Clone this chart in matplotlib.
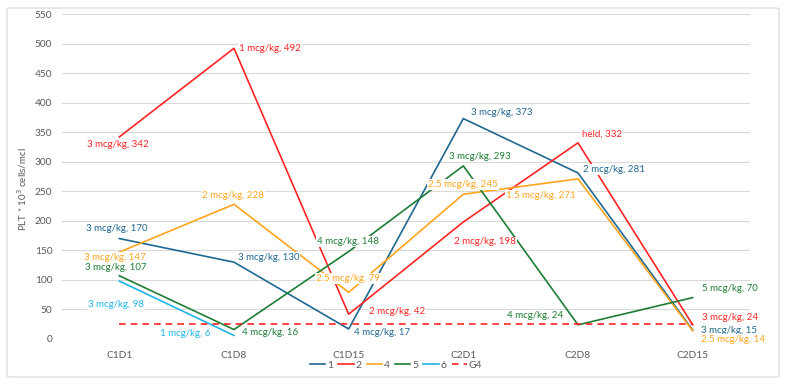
import matplotlib
matplotlib.use("Agg")
import matplotlib.pyplot as plt
from matplotlib.patches import FancyBboxPatch
import numpy as np

categories = ["C1D1", "C1D8", "C1D15", "C2D1", "C2D8", "C2D15"]
series_names = ["1", "2", "4", "5", "6"]
s1 = [170, 130, 17, 373, 281, 15]
s2 = [342, 492, 42, 198, 332, 24]
s4 = [147, 228, 79, 245, 271, 14]
s5 = [107, 16, 148, 293, 24, 70]
s6 = [98, 6, None, None, None, None]
g4 = [25, 25, 25, 25, 25, 25]

d1 = ["3 mcg/kg", "3 mcg/kg", "4 mcg/kg", "3 mcg/kg", "2 mcg/kg", "3 mcg/kg"]
d2 = ["3 mcg/kg", "1 mcg/kg", "2 mcg/kg", "2 mcg/kg", "held", "3 mcg/kg"]
d4 = ["3 mcg/kg", "2 mcg/kg", "2.5 mcg/kg", "2.5 mcg/kg", "1.5 mcg/kg", "2.5 mcg/kg"]
d5 = ["3 mcg/kg", "4 mcg/kg", "4 mcg/kg", "3 mcg/kg", "4 mcg/kg", "5 mcg/kg"]
d6 = ["3 mcg/kg", "1 mcg/kg", None, None, None, None]

colors = {"1": "#1F6891", "2": "#FF2424", "4": "#FFA51F", "5": "#1E7D34", "6": "#1FB5E6"}

# label placement (offset pixels, ha)
pos = {
    "1": [(-3, 10, "center"), (4, 5, "left"), (5, -4, "left"), (8, 6, "left"), (5, 3, "left"), (8, 0, "left")],
    "2": [(-1, -8, "center"), (5, 0, "left"), (20, 3, "left"), (-9, -20, "left"), (4, 9, "left"), (9, 7, "left")],
    "4": [(-4, -5, "center"), (-1, 9, "center"), (-1, 14, "center"), (0, 10, "center"), (-2, -17, "right"), (8, -9, "left")],
    "5": [(-4, 8, "center"), (8, -3, "left"), (-1, 10, "center"), (16, 9, "center"), (-15, 9, "right"), (9, 9, "left")],
    "6": [(-3, -23, "center"), (-24, 2, "right"), None, None, None, None],
}

plt.rcParams["font.family"] = ["Lato", "DejaVu Sans"]

fig = plt.figure(figsize=(7.87, 3.84), dpi=100)
fig.patch.set_facecolor("white")
border = FancyBboxPatch((7 / 787, 7 / 384), 772 / 787, 369 / 384,
                        boxstyle="round,pad=0,rounding_size=0.004",
                        transform=fig.transFigure, facecolor="none",
                        edgecolor="#D9D9D9", linewidth=0.8)
fig.patches.append(border)

ax = fig.add_axes([62 / 787, 45 / 384, 688 / 787, 325 / 384])
x = np.arange(len(categories))

data = {"1": s1, "2": s2, "4": s4, "5": s5, "6": s6}
doses = {"1": d1, "2": d2, "4": d4, "5": d5, "6": d6}

for name in series_names:
    vals = data[name]
    xs = [xi for xi, v in zip(x, vals) if v is not None]
    ys = [v for v in vals if v is not None]
    ax.plot(xs, ys, color=colors[name], lw=1.2, label=name, zorder=3)
ax.plot(x, g4, color="#FF2424", lw=1.2, ls=(0, (4, 3)), label="G4", zorder=3)

for name in series_names:
    vals = data[name]
    for i, v in enumerate(vals):
        if v is None:
            continue
        dx, dy, ha = pos[name][i]
        ax.annotate(f"{doses[name][i]}, {v}", (x[i], v), xytext=(dx, dy),
                    textcoords="offset pixels", ha=ha, va="center",
                    fontsize=7, color=colors[name], zorder=5,
                    bbox=dict(boxstyle="square,pad=0.1", fc="white", ec="none"))

ax.set_xlim(-0.5, 5.5)
ax.set_ylim(0, 550)
ax.set_yticks(np.arange(0, 551, 50))
ax.set_xticks(x)
ax.set_xticklabels(categories)
ax.grid(axis="y", color="#D9D9D9", lw=0.8)
ax.set_axisbelow(True)
for sp in ax.spines.values():
    sp.set_visible(False)
ax.tick_params(axis="both", length=0, labelsize=7.3, labelcolor="#595959")
ax.tick_params(axis="y", pad=7)
ax.tick_params(axis="x", pad=9)

fig.text(22 / 787, 1 - 189 / 384, "PLT * 10$^3$ cells/mcl", rotation=90,
         ha="center", va="center", fontsize=7, color="#595959")

fig.legend(loc="center", bbox_to_anchor=(396 / 787, 1 - 365 / 384), ncol=6,
           frameon=False, fontsize=7.5, handlelength=1.5, handletextpad=0.15,
           columnspacing=0.5, labelcolor="#595959")

fig.savefig("out.png", dpi=100, facecolor="white")
